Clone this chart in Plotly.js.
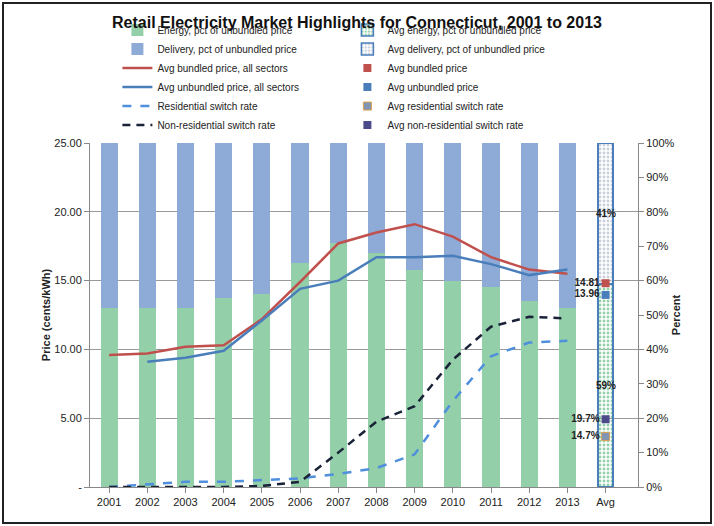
<!DOCTYPE html>
<html>
<head>
<script src="https://cdn.plot.ly/plotly-3.0.1.min.js"></script>
<style>
body { margin: 0; background: #fff; }
#chart { width: 706px; height: 518px; border: 2px solid #222; margin: 2px; }
</style>
</head>
<body>
<div id="chart"></div>
<script>
var years = ['2001','2002','2003','2004','2005','2006','2007','2008','2009','2010','2011','2012','2013'];
var energyPct = [52, 52, 52, 55, 56, 65, 71, 68, 63, 60, 58, 54, 52];
var deliveryPct = energyPct.map(function(v) { return 100 - v; });
var avgEnergyPct = 59;
var avgDeliveryPct = 41;
var bundled = [9.6, 9.7, 10.2, 10.3, 12.2, 14.9, 17.7, 18.5, 19.1, 18.2, 16.7, 15.8, 15.5];
var unbundledYears = years.slice(1);
var unbundled = [9.1, 9.4, 9.9, 12.1, 14.4, 15.0, 16.7, 16.7, 16.8, 16.2, 15.4, 15.8];
var resSwitch = [0, 0.8, 1.5, 1.5, 2, 2.5, 3.8, 5.5, 9.5, 25, 38, 42, 42.5];
var nonResSwitch = [0, 0, 0, 0, 0.3, 1.5, 10, 19, 23.5, 37, 46.6, 49.5, 49];
var avgBundled = 14.81;
var avgUnbundled = 13.96;
var avgRes = 14.7;
var avgNonRes = 19.7;

var green = '#93cfa9', blueBar = '#8eaad6', red = '#c0504d', blue = '#4a7ebb';
var lblFont = {size: 10, color: '#222'};

var traces = [
  {name: 'Energy, pct of unbundled price', type: 'bar', x: years, y: energyPct, yaxis: 'y',
   marker: {color: green}, width: 0.45},
  {name: 'Avg energy, pct of unbundled price', type: 'bar', x: ['Avg'], y: [avgEnergyPct], yaxis: 'y',
   marker: {color: '#e6f5ee', pattern: {shape: '.', fgcolor: green, size: 4, solidity: 0.4},
   line: {color: blue, width: 1.5}}, width: 0.4},
  {name: 'Delivery, pct of unbundled price', type: 'bar', x: years, y: deliveryPct, yaxis: 'y',
   marker: {color: blueBar}, width: 0.45},
  {name: 'Avg delivery, pct of unbundled price', type: 'bar', x: ['Avg'], y: [avgDeliveryPct], yaxis: 'y',
   marker: {color: '#eef0f4', pattern: {shape: '.', fgcolor: '#c8d0dc', size: 4, solidity: 0.4},
   line: {color: blue, width: 1.5}}, width: 0.4},
  {name: 'Avg bundled price, all sectors', type: 'scatter', mode: 'lines', x: years, y: bundled, yaxis: 'y2',
   line: {color: red, width: 2.5}},
  {name: 'Avg bundled price', type: 'scatter', mode: 'markers+text', x: ['Avg'], y: [avgBundled], yaxis: 'y2',
   marker: {color: red, symbol: 'square', size: 8}, text: ['<b>' + avgBundled.toFixed(2) + '</b>'],
   textposition: 'middle left', textfont: lblFont},
  {name: 'Avg unbundled price, all sectors', type: 'scatter', mode: 'lines', x: unbundledYears, y: unbundled, yaxis: 'y2',
   line: {color: blue, width: 2.5}},
  {name: 'Avg unbundled price', type: 'scatter', mode: 'markers+text', x: ['Avg'], y: [avgUnbundled], yaxis: 'y2',
   marker: {color: blue, symbol: 'square', size: 8}, text: ['<b>' + avgUnbundled.toFixed(2) + '</b>'],
   textposition: 'middle left', textfont: lblFont},
  {name: 'Residential switch rate', type: 'scatter', mode: 'lines', x: years, y: resSwitch, yaxis: 'y',
   line: {color: '#4f8fdc', width: 2.5, dash: 'dash'}},
  {name: 'Avg residential switch rate', type: 'scatter', mode: 'markers+text', x: ['Avg'], y: [avgRes], yaxis: 'y',
   marker: {color: '#7f95b3', symbol: 'square', size: 8, line: {color: '#e0a050', width: 1}},
   text: ['<b>' + avgRes.toFixed(1) + '%</b>'], textposition: 'middle left', textfont: lblFont},
  {name: 'Non-residential switch rate', type: 'scatter', mode: 'lines', x: years, y: nonResSwitch, yaxis: 'y',
   line: {color: '#1a2238', width: 2.5, dash: '8px,6px'}},
  {name: 'Avg non-residential switch rate', type: 'scatter', mode: 'markers+text', x: ['Avg'], y: [avgNonRes], yaxis: 'y',
   marker: {color: '#4b4a8a', symbol: 'square', size: 8},
   text: ['<b>' + avgNonRes.toFixed(1) + '%</b>'], textposition: 'middle left', textfont: lblFont}
];

var pctTicks = [], pctText = [];
for (var i = 0; i <= 100; i += 10) { pctTicks.push(i); pctText.push(i + '%'); }

var layout = {
  width: 706, height: 518,
  margin: {l: 86, r: 72, t: 127, b: 35},
  paper_bgcolor: '#fff', plot_bgcolor: '#fff',
  font: {family: 'Liberation Sans Narrow, Arial Narrow, Liberation Sans, sans-serif', size: 10, color: '#222'},
  title: {text: '<b>Retail Electricity Market Highlights for Connecticut, 2001 to 2013</b>',
          x: 0.5, y: 0.975, font: {family: 'Liberation Sans, sans-serif', size: 16, color: '#111'}},
  barmode: 'stack', bargap: 0.5, showlegend: true,
  legend: {orientation: 'h', x: 0.05, xanchor: 'left', y: 1.01, yanchor: 'bottom',
           entrywidth: 185, entrywidthmode: 'pixels', font: {size: 10}, traceorder: 'normal'},
  xaxis: {type: 'category', categoryarray: years.concat(['Avg']), showline: true, linecolor: '#888',
          ticks: 'outside', tickcolor: '#888', tickfont: {size: 11}},
  yaxis: {range: [0, 100], side: 'right', tickvals: pctTicks, ticktext: pctText, showgrid: false,
          showline: true, linecolor: '#888', ticks: 'outside', tickcolor: '#888', zeroline: false,
          tickfont: {size: 11}, title: {text: '<b>Percent</b>', font: {size: 11}}},
  yaxis2: {range: [0, 25], overlaying: 'y', side: 'left', tickvals: [0, 5, 10, 15, 20, 25],
           ticktext: ['-', '5.00', '10.00', '15.00', '20.00', '25.00'], showgrid: true, gridcolor: '#999',
           showline: true, linecolor: '#888', ticks: 'outside', tickcolor: '#888', zeroline: false,
           tickfont: {size: 11}, title: {text: '<b>Price (cents/kWh)</b>', font: {size: 11}}},
  annotations: [
    {x: 'Avg', y: avgEnergyPct + avgDeliveryPct / 2, xref: 'x', yref: 'y', text: '<b>' + avgDeliveryPct + '%</b>',
     showarrow: false, font: {size: 10}},
    {x: 'Avg', y: avgEnergyPct / 2, xref: 'x', yref: 'y', text: '<b>' + avgEnergyPct + '%</b>',
     showarrow: false, font: {size: 10}}
  ]
};

Plotly.newPlot('chart', traces, layout, {displayModeBar: false});
</script>
</body>
</html>
